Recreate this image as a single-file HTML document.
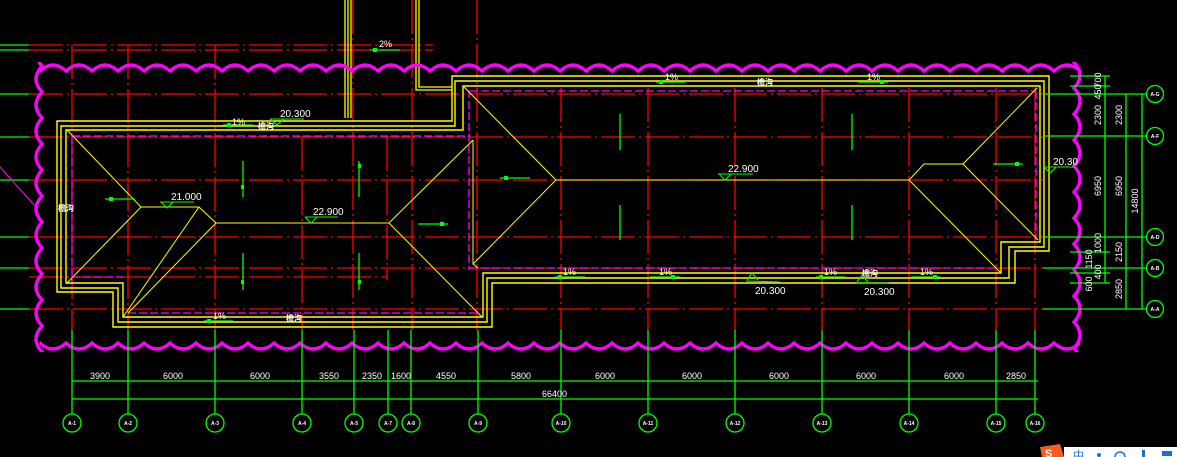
<!DOCTYPE html>
<html><head><meta charset="utf-8"><style>
html,body{margin:0;padding:0;background:#000;}
svg{display:block}
text{font-family:"Liberation Sans","Noto Sans CJK SC",sans-serif;fill:#fff}
</style></head><body>
<svg width="1177" height="457" viewBox="0 0 1177 457" font-size="9.5" xmlns="http://www.w3.org/2000/svg">
<defs>
<pattern id="sc" width="26" height="12" patternUnits="userSpaceOnUse">
<path d="M-1,10 Q13,-4 27,10" fill="none" stroke="#ff00ff" stroke-width="3.2"/>
</pattern>
</defs>
<rect width="1177" height="457" fill="#000"/>

<g stroke="#00ff00" stroke-width="1.3">
<line x1="0" y1="45" x2="29" y2="45"/><line x1="0" y1="50" x2="29" y2="50"/>
<line x1="0" y1="94" x2="29" y2="94"/><line x1="0" y1="137" x2="29" y2="137"/>
<line x1="0" y1="180" x2="29" y2="180"/><line x1="0" y1="237" x2="29" y2="237"/>
<line x1="0" y1="268" x2="29" y2="268"/><line x1="0" y1="309" x2="29" y2="309"/>
</g>
<line x1="0" y1="167" x2="35" y2="206" stroke="#ff00ff" stroke-width="1"/>

<g stroke="#ff0000" stroke-width="1.3" stroke-dasharray="34 4 2 4">
<line x1="29" y1="45" x2="433" y2="45"/><line x1="29" y1="50" x2="433" y2="50"/>
<line x1="29" y1="94" x2="1043" y2="94"/>
<line x1="29" y1="137" x2="1043" y2="137"/>
<line x1="29" y1="180" x2="1043" y2="180"/>
<line x1="29" y1="237" x2="1043" y2="237"/>
<line x1="29" y1="268" x2="1043" y2="268"/>
<line x1="29" y1="277" x2="387" y2="277"/>
<line x1="29" y1="309" x2="1043" y2="309"/>
</g>
<g stroke="#ff0000" stroke-width="1.3" stroke-dasharray="34 4 2 4">
<line x1="72" y1="45" x2="72" y2="330"/><line x1="128" y1="45" x2="128" y2="330"/>
<line x1="215" y1="45" x2="215" y2="330"/><line x1="302" y1="137" x2="302" y2="330"/>
<line x1="353" y1="0" x2="353" y2="330"/><line x1="387" y1="137" x2="387" y2="280"/>
<line x1="412" y1="0" x2="412" y2="330"/><line x1="477" y1="0" x2="477" y2="330"/>
<line x1="561" y1="88" x2="561" y2="330"/><line x1="648" y1="88" x2="648" y2="330"/>
<line x1="735" y1="88" x2="735" y2="330"/><line x1="822" y1="88" x2="822" y2="330"/>
<line x1="909" y1="88" x2="909" y2="330"/><line x1="996" y1="88" x2="996" y2="330"/>
<line x1="1035" y1="88" x2="1035" y2="330"/>
</g>

<g stroke="#ffff00" stroke-width="1.3" fill="none">
<line x1="345" y1="0" x2="345" y2="118"/><line x1="348" y1="0" x2="348" y2="118"/><line x1="351" y1="0" x2="351" y2="118"/>
<polyline points="416,0 416,90 452,90"/><polyline points="419,0 419,87 452,87"/>
</g>
<line x1="370" y1="50" x2="400" y2="50" stroke="#00ff00" stroke-width="1.3"/>
<rect x="373" y="48" width="4" height="4" fill="#00ff00"/>
<text x="379" y="47" font-size="9">2%</text>

<g transform="translate(40,62)"><rect width="1040" height="12" fill="url(#sc)"/></g>
<g transform="translate(1080,352) rotate(180)"><rect width="1040" height="12" fill="url(#sc)"/></g>
<g transform="translate(33,352) rotate(-90)"><rect width="290" height="12" fill="url(#sc)"/></g>
<g transform="translate(1083,62) rotate(90)"><rect width="290" height="12" fill="url(#sc)"/></g>

<g stroke="#ff00ff" stroke-width="1.3" fill="none" stroke-dasharray="8 3">
<line x1="470" y1="91" x2="1036" y2="91"/><line x1="1036" y1="91" x2="1036" y2="240"/>
<line x1="470" y1="268" x2="996" y2="268"/><line x1="469" y1="90" x2="469" y2="270"/>
<line x1="72" y1="136" x2="470" y2="136"/><line x1="72" y1="136" x2="72" y2="283"/>
<line x1="72" y1="277" x2="123" y2="277"/><line x1="128" y1="313" x2="478" y2="313"/>
</g>

<g stroke="#ffff00" stroke-width="1.4" fill="none">
<polygon points="57,121 452,121 452,76 1049,76 1049,251 1015,251 1015,283 492,283 492,327 113,327 113,292 57,292"/>
<polygon points="61,126 455,126 455,81 1044,81 1044,247 1009,247 1009,278 487,278 487,322 118,322 118,288 61,288"/>
<polygon points="66,130 463,130 463,86 1040,86 1040,242 1001,242 1001,273 483,273 483,317 123,317 123,283 66,283"/>
</g>
<g stroke="#ffff00" stroke-width="1" fill="none">
<polyline points="67,130 141,207 199,207 216,223 389,223 473,140"/>
<line x1="141" y1="207" x2="67" y2="283"/>
<line x1="199" y1="207" x2="123" y2="317"/>
<line x1="216" y1="223" x2="128" y2="313"/>
<line x1="389" y1="223" x2="482" y2="317"/>
<polyline points="473,140 473,264 478,268"/>
<polyline points="464,87 556,180 909,180 924,164 963,164 1037,88"/>
<line x1="556" y1="180" x2="473" y2="264"/>
<line x1="963" y1="164" x2="1038" y2="240"/>
<line x1="909" y1="180" x2="1000" y2="272"/>
</g>

<g stroke="#00ff00" stroke-width="1.3">
<line x1="105" y1="199" x2="135" y2="199"/><line x1="418" y1="224" x2="448" y2="224"/>
<line x1="243" y1="161" x2="243" y2="197"/><line x1="243" y1="253" x2="243" y2="290"/>
<line x1="359" y1="161" x2="359" y2="197"/><line x1="359" y1="253" x2="359" y2="290"/>
<line x1="620" y1="114" x2="620" y2="150"/><line x1="620" y1="205" x2="620" y2="240"/>
<line x1="852" y1="114" x2="852" y2="150"/><line x1="852" y1="205" x2="852" y2="240"/>
<line x1="500" y1="178" x2="530" y2="178"/><line x1="993" y1="164" x2="1023" y2="164"/>
<line x1="223" y1="125" x2="253" y2="125"/><line x1="204" y1="321" x2="233" y2="321"/>
<line x1="656" y1="82" x2="685" y2="82"/><line x1="858" y1="82" x2="888" y2="82"/>
<line x1="555" y1="277" x2="585" y2="277"/><line x1="650" y1="277" x2="680" y2="277"/>
<line x1="816" y1="277" x2="845" y2="277"/><line x1="911" y1="277" x2="940" y2="277"/>
</g>
<g fill="#00ff00">
<rect x="109" y="197" width="4" height="4"/><rect x="440" y="222" width="4" height="4"/>
<rect x="241" y="185" width="3" height="4"/><rect x="358" y="164" width="3" height="4"/>
<rect x="241" y="280" width="3" height="4"/><rect x="358" y="280" width="3" height="4"/>
<rect x="504" y="176" width="4" height="4"/><rect x="1015" y="162" width="4" height="4"/>
<rect x="227" y="123" width="4" height="4"/><rect x="207" y="319" width="4" height="4"/>
<rect x="659" y="80" width="4" height="4"/><rect x="880" y="80" width="4" height="4"/>
<rect x="558" y="275" width="4" height="4"/><rect x="671" y="275" width="4" height="4"/>
<rect x="819" y="275" width="4" height="4"/><rect x="933" y="275" width="4" height="4"/>
</g>
<g font-size="9">
<text x="232" y="125">1%</text><text x="213" y="319">1%</text>
<text x="665" y="80">1%</text><text x="867" y="80">1%</text>
<text x="563" y="275">1%</text><text x="659" y="275">1%</text>
<text x="824" y="275">1%</text><text x="920" y="275">1%</text>
</g>
<g font-size="8" font-weight="bold">
<text x="258" y="129">檐沟</text><text x="286" y="321">檐沟</text>
<text x="58" y="211">檐沟</text><text x="757" y="85">檐沟</text><text x="862" y="276">檐沟</text>
</g>

<g stroke="#00ff00" stroke-width="1.1" fill="none">
<line x1="270" y1="119" x2="304" y2="119"/><polyline points="270,119 277,125 284,119"/>
<line x1="160" y1="202" x2="194" y2="202"/><polyline points="161,202 167,208 173,202"/>
<line x1="305" y1="217" x2="338" y2="217"/><polyline points="305,217 311,223 317,217"/>
<line x1="718" y1="174" x2="753" y2="174"/><polyline points="719,174 725,180 731,174"/>
<line x1="1044" y1="167" x2="1075" y2="167"/><polyline points="1044,167 1050,173 1056,167"/>
<line x1="746" y1="281" x2="780" y2="282"/><polyline points="747,280 752,273 758,280"/>
<line x1="856" y1="283" x2="889" y2="283"/><polyline points="857,282 862,275 868,282"/>
</g>
<g font-size="10">
<text x="280" y="117">20.300</text><text x="171" y="200">21.000</text>
<text x="313" y="215">22.900</text><text x="728" y="172">22.900</text>
<text x="1053" y="165">20.30</text><text x="755" y="294">20.300</text><text x="864" y="295">20.300</text>
</g>

<g stroke="#00ff00" stroke-width="1.3" fill="none">
<line x1="72" y1="330" x2="72" y2="414"/><line x1="128" y1="330" x2="128" y2="414"/>
<line x1="215" y1="330" x2="215" y2="414"/><line x1="302" y1="330" x2="302" y2="414"/>
<line x1="354" y1="330" x2="354" y2="414"/><line x1="388" y1="330" x2="388" y2="414"/>
<line x1="411" y1="330" x2="411" y2="414"/><line x1="478" y1="330" x2="478" y2="414"/>
<line x1="561" y1="330" x2="561" y2="414"/><line x1="648" y1="330" x2="648" y2="414"/>
<line x1="735" y1="330" x2="735" y2="414"/><line x1="822" y1="330" x2="822" y2="414"/>
<line x1="909" y1="330" x2="909" y2="414"/><line x1="996" y1="330" x2="996" y2="414"/>
<line x1="1035" y1="330" x2="1035" y2="414"/>
<line x1="72" y1="381" x2="1038" y2="381"/><line x1="72" y1="399" x2="1038" y2="399"/>
<ellipse cx="72" cy="423" rx="9" ry="9"/><ellipse cx="128" cy="423" rx="9" ry="9"/>
<ellipse cx="215" cy="423" rx="9" ry="9"/><ellipse cx="302" cy="423" rx="9" ry="9"/>
<ellipse cx="354" cy="423" rx="9" ry="9"/><ellipse cx="388" cy="423" rx="9" ry="9"/>
<ellipse cx="411" cy="423" rx="9" ry="9"/><ellipse cx="478" cy="423" rx="9" ry="9"/>
<ellipse cx="561" cy="423" rx="9" ry="9"/><ellipse cx="648" cy="423" rx="9" ry="9"/>
<ellipse cx="735" cy="423" rx="9" ry="9"/><ellipse cx="822" cy="423" rx="9" ry="9"/>
<ellipse cx="909" cy="423" rx="9" ry="9"/><ellipse cx="996" cy="423" rx="9" ry="9"/>
<ellipse cx="1035" cy="423" rx="9" ry="9"/>
</g>
<g font-size="9">
<text x="90" y="379">3900</text><text x="163" y="379">6000</text><text x="250" y="379">6000</text>
<text x="319" y="379">3550</text><text x="362" y="379">2350</text><text x="391" y="379">1600</text>
<text x="436" y="379">4550</text><text x="511" y="379">5800</text><text x="595" y="379">6000</text>
<text x="682" y="379">6000</text><text x="769" y="379">6000</text><text x="856" y="379">6000</text>
<text x="944" y="379">6000</text><text x="1006" y="379">2850</text>
<text x="542" y="397">66400</text>
</g>
<g font-size="5" font-weight="bold" text-anchor="middle">
<text x="72" y="425">A-1</text><text x="128" y="425">A-2</text><text x="215" y="425">A-3</text>
<text x="302" y="425">A-4</text><text x="354" y="425">A-5</text><text x="388" y="425">A-7</text>
<text x="411" y="425">A-8</text><text x="478" y="425">A-9</text><text x="561" y="425">A-10</text>
<text x="648" y="425">A-11</text><text x="735" y="425">A-12</text><text x="822" y="425">A-13</text>
<text x="909" y="425">A-14</text><text x="996" y="425">A-15</text><text x="1035" y="425">A-16</text>
</g>

<g stroke="#00ff00" stroke-width="1.3" fill="none">
<line x1="1043" y1="94" x2="1146" y2="94"/><line x1="1043" y1="136" x2="1146" y2="136"/>
<line x1="1043" y1="237" x2="1146" y2="237"/><line x1="1043" y1="268" x2="1146" y2="268"/>
<line x1="1043" y1="309" x2="1146" y2="309"/>
<line x1="1070" y1="76" x2="1110" y2="76"/><line x1="1070" y1="86" x2="1110" y2="86"/>
<line x1="1070" y1="252" x2="1110" y2="252"/><line x1="1070" y1="273" x2="1110" y2="273"/>
<line x1="1070" y1="283" x2="1110" y2="283"/>
<line x1="1105" y1="76" x2="1105" y2="283"/><line x1="1126" y1="94" x2="1126" y2="309"/>
<line x1="1142" y1="94" x2="1142" y2="309"/>
<circle cx="1155" cy="94" r="8.5"/><circle cx="1155" cy="136" r="8.5"/>
<circle cx="1155" cy="237" r="8.5"/><circle cx="1155" cy="268" r="8.5"/>
<circle cx="1155" cy="309" r="8.5"/>
</g>
<g font-size="9" text-anchor="middle">
<text transform="translate(1101,80) rotate(-90)">700</text>
<text transform="translate(1101,92) rotate(-90)">450</text>
<text transform="translate(1101,115) rotate(-90)">2300</text>
<text transform="translate(1101,186) rotate(-90)">6950</text>
<text transform="translate(1101,243) rotate(-90)">1000</text>
<text transform="translate(1092,259) rotate(-90)">1150</text>
<text transform="translate(1101,272) rotate(-90)">400</text>
<text transform="translate(1092,284) rotate(-90)">600</text>
<text transform="translate(1122,115) rotate(-90)">2300</text>
<text transform="translate(1122,186) rotate(-90)">6950</text>
<text transform="translate(1122,252) rotate(-90)">2150</text>
<text transform="translate(1122,289) rotate(-90)">2850</text>
<text transform="translate(1138,201) rotate(-90)">14800</text>
</g>
<g font-size="5" font-weight="bold" text-anchor="middle">
<text x="1155" y="96">A-G</text><text x="1155" y="138">A-F</text><text x="1155" y="239">A-D</text>
<text x="1155" y="270">A-B</text><text x="1155" y="311">A-A</text>
</g>

<path d="M1040,447 L1060,444 L1064,457 L1042,457 Z" fill="#ff5a1e"/>
<text x="1045" y="457" font-size="11" font-weight="bold">S</text>
<rect x="1064" y="447" width="113" height="10" fill="#ffffff"/>
<g fill="#1a6fd0">
<text x="1073" y="459" font-size="11" style="fill:#1a6fd0">中</text>
<circle cx="1099" cy="455" r="2"/>
<circle cx="1120" cy="457" r="5" fill="none" stroke="#1a6fd0" stroke-width="1.5"/>
<rect x="1142" y="450" width="3" height="7"/>
<rect x="1162" y="451" width="10" height="5"/>
</g>
</svg>
</body></html>
